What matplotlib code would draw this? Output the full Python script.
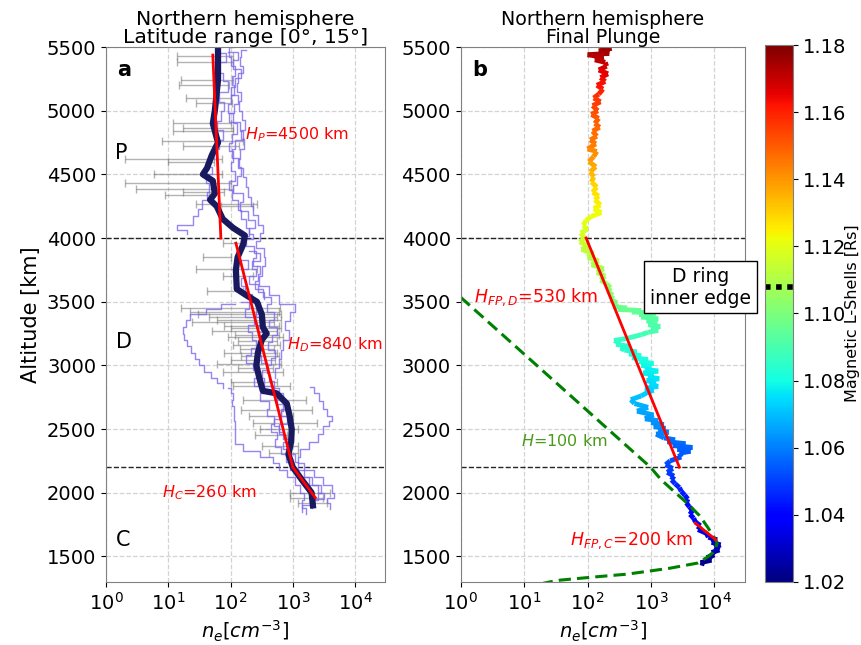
import numpy as np
import matplotlib
matplotlib.use("Agg")
import matplotlib.pyplot as plt
from matplotlib.collections import LineCollection
from matplotlib.colors import Normalize
from matplotlib.cm import ScalarMappable

# ---------------- panel a: individual profiles (altitude km, ne cm^-3) ----------------
p1_alt = [5480, 5420, 5350, 5300, 5220, 5150, 5080, 5000, 4930, 4850, 4780, 4700, 4620, 4550, 4480,
          4400, 4320, 4250, 4180, 4100, 4040, 3980, 3920, 3850, 3780, 3700, 3620, 3550, 3480, 3420,
          3350, 3280, 3200, 3120, 3050, 2980, 2900]
p1_ne = [175, 150, 140, 160, 130, 125, 145, 135, 155, 170, 150, 165, 140, 130, 160,
         175, 190, 210, 230, 280, 330, 300, 260, 340, 360, 320, 290, 420, 600, 1100,
         900, 750, 880, 700, 650, 600, 520]

p2_alt = [5450, 5380, 5300, 5230, 5150, 5070, 5000, 4920, 4850, 4770, 4700, 4630, 4560, 4500, 4430,
          4360, 4300, 4230, 4170, 4100, 4060, 4030]
p2_ne = [70, 85, 60, 75, 90, 65, 80, 70, 60, 75, 65, 55, 45, 50, 40,
         45, 42, 35, 30, 25, 14, 20]

p3_alt = [5500, 5420, 5350, 5270, 5200, 5120, 5050, 4980, 4900, 4820, 4750, 4680, 4600, 4530, 4450,
          4380, 4300, 4220, 4150, 4080, 4020, 3960, 3900, 3830, 3760, 3690, 3620, 3560, 3500, 3440,
          3380, 3320, 3260, 3200, 3140, 3080, 3020, 2960, 2900, 2840, 2780, 2720, 2660, 2600, 2540,
          2480, 2420, 2360, 2300, 2240, 2180, 2120, 2060, 2000, 1940, 1880]
p3_ne = [110, 95, 100, 120, 105, 115, 100, 90, 110, 125, 105, 95, 110, 100, 120,
         95, 105, 130, 150, 180, 200, 170, 150, 140, 190, 160, 150, 170, 220, 300,
         260, 350, 280, 330, 300, 260, 310, 380, 320, 350, 500, 700, 750, 650, 800,
         600, 700, 900, 800, 1100, 1200, 1500, 2000, 2800, 2500, 2000]

p4_alt = [3480, 3440, 3400, 3355, 3300, 3250, 3200, 3150, 3100, 3050, 3000, 2950, 2900, 2860, 2820]
p4_ne = [120, 70, 40, 22, 19, 17, 18, 20, 23, 27, 31, 38, 48, 60, 76]

p5_alt = [2820, 2780, 2730, 2680, 2620, 2560, 2500, 2440, 2380, 2330, 2280, 2230, 2180, 2120, 2060,
          2000, 1940, 1880, 1830]
p5_ne = [90, 100, 110, 105, 115, 112, 118, 120, 117, 160, 300, 480, 600, 800, 1100,
         1300, 1500, 1400, 1600]

p6_alt = [2830, 2780, 2720, 2660, 2600, 2560, 2520, 2460, 2400, 2340, 2280, 2230, 2180, 2120, 2060,
          2000, 1960, 1920, 1870]
p6_ne = [1900, 2200, 2600, 3000, 3500, 4200, 3800, 3000, 2500, 1800, 1300, 1200, 1500, 2200, 3000,
         4200, 4500, 3500, 4000]

p7_alt = [3900, 3840, 3780, 3720, 3660, 3600, 3540, 3480, 3420, 3360, 3300, 3240, 3180, 3120, 3060,
          3000, 2940, 2880, 2820, 2760, 2700, 2640, 2580, 2520, 2460, 2400, 2340, 2280, 2220]
p7_ne = [200, 260, 230, 300, 280, 250, 330, 450, 380, 500, 420, 550, 470, 400, 520,
         450, 380, 420, 500, 600, 550, 700, 650, 500, 600, 750, 700, 850, 950]

p8_alt = [5460, 5400, 5330, 5260, 5190, 5120, 5050, 4980, 4910, 4840, 4770, 4700, 4630, 4560, 4490,
          4420, 4350, 4280, 4210, 4140, 4080, 4030, 3990, 3940, 3880, 3820, 3760, 3700, 3640, 3580,
          3520]
p8_ne = [90, 130, 110, 145, 120, 100, 130, 115, 95, 140, 160, 120, 105, 135, 150,
         125, 110, 160, 140, 190, 250, 200, 230, 180, 240, 300, 220, 260, 200, 280,
         350]

p9_alt = [3500, 3440, 3380, 3320, 3260, 3200, 3140, 3080, 3020, 2960, 2900, 2840, 2780, 2720, 2660,
          2600, 2540, 2480, 2420, 2360, 2300, 2240, 2180, 2120, 2060, 2000, 1950, 1900, 1850]
p9_ne = [150, 200, 170, 240, 190, 220, 260, 210, 180, 230, 280, 240, 350, 300, 420,
         380, 500, 450, 550, 520, 650, 780, 900, 1200, 1800, 2500, 3200, 2200, 1400]

profiles = [(p1_ne, p1_alt), (p2_ne, p2_alt), (p3_ne, p3_alt), (p4_ne, p4_alt),
            (p5_ne, p5_alt), (p6_ne, p6_alt), (p7_ne, p7_alt), (p8_ne, p8_alt),
            (p9_ne, p9_alt)]

# error bars (centre, half width)
eb_alt = [5430, 5383, 5240, 5200, 5100, 5060, 4905, 4865, 4840, 4760, 4720, 4620, 4600, 4500, 4435,
          4385, 4360, 4340, 4270, 4250, 3960, 3855, 3760, 3700, 3585,
          3450, 3420, 3400, 3380, 3360, 3340, 3310, 3290, 3270, 3240, 3220, 3190, 3160, 3130, 3100,
          3070, 3040, 3010, 2980, 2950, 2870, 2840,
          2727, 2650, 2600, 2550, 2500, 2450, 2370, 2310, 2000, 1960, 1920]
eb_ne = [62, 62, 63, 55, 60, 66, 56, 63, 61, 84, 78, 37, 32, 40, 51,
         56, 48, 27, 146, 150, 112, 68, 146, 152, 100,
         318, 311, 340, 298, 350, 262, 340, 375, 305, 360, 395, 345, 365, 320, 315,
         375, 310, 355, 305, 383, 325, 505,
         905, 1075, 600, 1315, 750, 525, 760, 810, 2445, 1950, 2350]
eb_err = [48, 48, 47, 40, 41, 38, 44, 46, 49, 76, 61, 35, 22, 34, 49,
          53, 31, 18, 118, 80, 37, 32, 118, 77, 58,
          302, 289, 310, 253, 290, 238, 260, 275, 255, 240, 305, 215, 255, 180, 235,
          225, 210, 295, 175, 307, 225, 395,
          745, 925, 400, 1085, 450, 275, 440, 390, 1555, 1050, 1150]

# median profile
med_alt = [5500, 5240, 5000, 4900, 4750, 4650, 4550, 4500, 4450, 4350, 4300, 4250, 4150, 4080, 4020,
           3950, 3850, 3750, 3600, 3550, 3500, 3400, 3300, 3250, 3200, 3100, 3000, 2900, 2800, 2780,
           2700, 2600, 2500, 2400, 2300, 2200, 2100, 2000, 1900]
med_ne = [63, 63, 56, 52, 63, 50, 42, 36, 52, 56, 47, 60, 75, 110, 170,
          160, 130, 122, 126, 180, 265, 318, 330, 380, 318, 275, 260, 290, 330, 550,
          800, 890, 960, 940, 850, 1000, 1400, 2000, 2100]

# exponential fits (end points)
fitP_alt, fitP_ne = [5437, 4000], [52, 70]
fitD_alt, fitD_ne = [3960, 2200], [122, 1000]
fitC_alt, fitC_ne = [2200, 1960], [1000, 2300]

# ---------------- panel b: final plunge ----------------
fp_alt = [5490, 5470, 5450, 5440, 5420, 5400, 5380,
          5350, 5320, 5290, 5260, 5230, 5200, 5170,
          5130, 5100, 5070, 5040, 5000, 4970, 4940, 4900, 4870, 4840, 4800, 4770, 4740, 4700, 4680,
          4640, 4600, 4560, 4520, 4480, 4440, 4400, 4360, 4330, 4300, 4260, 4230, 4200, 4170,
          4140, 4100, 4070, 4040, 4000, 3970,
          3940, 3910, 3880, 3850, 3820, 3790, 3760, 3730, 3700, 3670,
          3640, 3610, 3580, 3550, 3520, 3490,
          3460, 3450, 3440, 3430, 3420, 3410, 3400, 3390, 3380, 3365, 3350, 3335, 3320, 3305,
          3290, 3275, 3260, 3240,
          3210, 3195, 3180, 3165, 3150, 3135, 3120, 3105, 3090, 3075, 3060, 3045, 3030, 3015, 3000,
          2985, 2970, 2955, 2940, 2925, 2910, 2895, 2880, 2865, 2850, 2835, 2820, 2805, 2790,
          2760, 2730, 2700, 2670, 2640, 2610,
          2580, 2565, 2550, 2535, 2520, 2505, 2490, 2475, 2460,
          2430, 2415, 2400, 2385, 2370, 2355, 2340, 2325, 2310, 2280,
          2250, 2220, 2190, 2160, 2130, 2100,
          2070, 2040, 2010, 1980, 1950, 1920,
          1890, 1860, 1830, 1800,
          1770, 1740, 1710, 1680,
          1650, 1630, 1610, 1590, 1570, 1550, 1530, 1510, 1490, 1470, 1450, 1440]
fp_ne = [240, 150, 220, 100, 180, 130, 190,
         200, 150, 210, 160, 190, 140, 175,
         150, 125, 160, 120, 145, 115, 150, 130, 155, 120, 140, 110, 135, 100, 140,
         125, 105, 135, 110, 125, 115, 140, 120, 150, 130, 160, 125, 165, 115,
         95, 85, 100, 78, 90, 75,
         105, 80, 125, 100, 150, 115, 180, 140, 190, 160,
         200, 230, 210, 250, 230, 290,
         260, 420, 300, 700, 500, 1200, 650, 1000, 700, 1300, 850, 1250, 900, 1400,
         1000, 1300, 900, 700,
         400, 260, 330, 280, 450, 330, 380, 600, 450, 700, 500, 900, 650, 1100, 700,
         1000, 800, 1300, 750, 1100, 900, 1350, 850, 1200, 950, 1300, 800, 1100, 900,
         700, 480, 550, 900, 600, 1100,
         800, 1300, 1000, 1600, 1100, 1700, 1300, 1900, 1200,
         1600, 2400, 1800, 3500, 2200, 4500, 2600, 4200, 2800, 3000,
         2000, 1700, 2200, 1800, 2300, 2100,
         2400, 2800, 3000, 3400, 3800, 3600,
         4000, 4500, 4100, 4700,
         5000, 6000, 5500, 7500,
         8000, 11000, 9000, 12500, 10000, 12000, 9000, 10000, 7500, 9000, 6000, 7000]
fp_L = [1.176, 1.175, 1.174, 1.173, 1.172, 1.171, 1.170,
        1.168, 1.166, 1.165, 1.164, 1.163, 1.162, 1.160,
        1.158, 1.156, 1.155, 1.154, 1.152, 1.151, 1.150, 1.149, 1.148, 1.147, 1.146, 1.145, 1.144, 1.142, 1.141,
        1.140, 1.138, 1.136, 1.134, 1.132, 1.130, 1.128, 1.127, 1.126, 1.125, 1.124, 1.123, 1.122, 1.121,
        1.120, 1.119, 1.118, 1.117, 1.116, 1.115,
        1.114, 1.113, 1.112, 1.111, 1.110, 1.109, 1.108, 1.107, 1.106, 1.105,
        1.104, 1.103, 1.102, 1.101, 1.100, 1.099,
        1.097, 1.097, 1.096, 1.096, 1.095, 1.095, 1.094, 1.094, 1.093, 1.093, 1.092, 1.092, 1.091, 1.091,
        1.090, 1.090, 1.089, 1.088,
        1.086, 1.086, 1.085, 1.085, 1.084, 1.084, 1.083, 1.083, 1.082, 1.082, 1.081, 1.081, 1.080, 1.080, 1.079,
        1.079, 1.078, 1.078, 1.077, 1.077, 1.076, 1.076, 1.075, 1.075, 1.074, 1.074, 1.073, 1.073, 1.072,
        1.070, 1.069, 1.068, 1.067, 1.066, 1.065,
        1.064, 1.064, 1.063, 1.063, 1.062, 1.062, 1.061, 1.061, 1.060,
        1.058, 1.058, 1.057, 1.057, 1.056, 1.056, 1.055, 1.055, 1.054, 1.053,
        1.052, 1.051, 1.050, 1.049, 1.048, 1.047,
        1.046, 1.045, 1.044, 1.043, 1.042, 1.041,
        1.040, 1.039, 1.038, 1.037,
        1.036, 1.035, 1.034, 1.033,
        1.032, 1.031, 1.030, 1.029, 1.028, 1.027, 1.026, 1.025, 1.024, 1.023, 1.022, 1.021]

fitFD_alt, fitFD_ne = [4000, 2200], [95, 2800]
fitFC_alt, fitFC_ne = [1760, 1630], [5000, 10500]

# Chapman profile H = 100 km
ch_alt = [3535, 2200, 2100, 1918, 1820, 1729, 1650, 1604, 1570, 1530, 1490, 1447, 1407, 1360,
          1337, 1313, 1300, 1288]
ch_ne = [1, 980, 1450, 3700, 5800, 7800, 9800, 11000, 10500, 9500, 7500, 5400, 2000, 420,
         122, 37, 26, 20]

L_inner_edge = 1.108
yticks = [1500, 2000, 2500, 3000, 3500, 4000, 4500, 5000, 5500]
cb_ticks = [1.02, 1.04, 1.06, 1.08, 1.10, 1.12, 1.14, 1.16, 1.18]


def style_axis(ax):
    ax.set_xscale("log")
    ax.set_xlim(1, 3e4)
    ax.set_ylim(1300, 5500)
    ax.set_yticks(yticks)
    ax.set_xticks([1, 10, 100, 1000, 10000])
    ax.grid(True, which="major", color="lightgray", linestyle="--", linewidth=0.9)
    ax.tick_params(labelsize=14)
    for s in ax.spines.values():
        s.set_color("gray")
    ax.set_xlabel("$n_e[cm^{-3}]$", fontsize=14)
    for h in (4000, 2200):
        ax.axhline(h, color="k", linestyle="--", linewidth=1, alpha=0.85)


fig = plt.figure(figsize=(8.61, 6.45), dpi=100)
ax1 = fig.add_axes([0.123, 0.098, 0.324, 0.829])
ax2 = fig.add_axes([0.535, 0.098, 0.330, 0.829])
cax = fig.add_axes([0.888, 0.098, 0.033, 0.832])

# panel a
style_axis(ax1)
ax1.errorbar(eb_ne, eb_alt, xerr=eb_err, fmt="none", ecolor="dimgray", alpha=0.5,
             capsize=3, elinewidth=1)
for ne, alt in profiles:
    ax1.plot(ne, alt, color="mediumslateblue", linewidth=1, alpha=0.8, drawstyle="steps-post")
ax1.plot(med_ne, med_alt, color="#191960", linewidth=4.5)
ax1.plot(fitP_ne, fitP_alt, color="red", linewidth=2)
ax1.plot(fitD_ne, fitD_alt, color="red", linewidth=2)
ax1.plot(fitC_ne, fitC_alt, color="red", linewidth=2)
ax1.set_ylabel("Altitude [km]", fontsize=15)
ax1.set_title("Northern hemisphere\nLatitude range [0°, 15°]", fontsize=14.7, pad=3,
              linespacing=0.95)
ax1.text(0.04, 0.975, "a", transform=ax1.transAxes, fontsize=15, fontweight="bold", va="top")
ax1.text(1.4, 4667, "P", fontsize=15, va="center")
ax1.text(1.45, 3183, "D", fontsize=15, va="center")
ax1.text(1.45, 1627, "C", fontsize=15, va="center")
ax1.text(170, 4810, "$H_P$=4500 km", color="red", fontsize=11.5, va="center")
ax1.text(800, 3160, "$H_D$=840 km", color="red", fontsize=11.5, va="center")
ax1.text(7.9, 1997, "$H_C$=260 km", color="red", fontsize=11.5, va="center")

# panel b
style_axis(ax2)
norm = Normalize(1.02, 1.18)
pts = np.column_stack([fp_ne, fp_alt]).astype(float)
segs = np.stack([pts[:-1], pts[1:]], axis=1)
lc = LineCollection(segs, cmap="jet", norm=norm, linewidth=3.5)
lc.set_array(np.array(fp_L[:-1]))
ax2.add_collection(lc)
ax2.plot(ch_ne, ch_alt, color="green", linestyle="--", linewidth=2.2, dashes=(4, 2))
ax2.plot(fitFD_ne, fitFD_alt, color="red", linewidth=2)
ax2.plot(fitFC_ne, fitFC_alt, color="red", linewidth=2)
ax2.set_title("Northern hemisphere\nFinal Plunge", fontsize=13.7, pad=3, linespacing=0.95)
ax2.text(0.04, 0.975, "b", transform=ax2.transAxes, fontsize=15, fontweight="bold", va="top")
ax2.text(1.6, 3536, "$H_{FP,D}$=530 km", color="red", fontsize=12.5, va="center")
ax2.text(8.9, 2405, "$H$=100 km", color="#4a9a1a", fontsize=11.5, va="center")
ax2.text(53, 1627, "$H_{FP,C}$=200 km", color="red", fontsize=12.5, va="center")
ax2.text(6000, 3615, "D ring\ninner edge", fontsize=13.5, ha="center", va="center",
         clip_on=False, linespacing=1.2,
         bbox=dict(boxstyle="square,pad=0.3", facecolor="white", edgecolor="black"))

# colorbar
sm = ScalarMappable(norm=norm, cmap="jet")
cb = fig.colorbar(sm, cax=cax, ticks=cb_ticks)
cb.ax.tick_params(labelsize=14)
cb.set_label("Magnetic L-Shells [Rs]", fontsize=11.5)
cb.ax.yaxis.set_label_coords(2.82, 0.5)
cb.outline.set_edgecolor("gray")
cax.axhline(L_inner_edge, color="k", linestyle=(0, (1, 1)), linewidth=4)

fig.savefig("out.png", dpi=100)
